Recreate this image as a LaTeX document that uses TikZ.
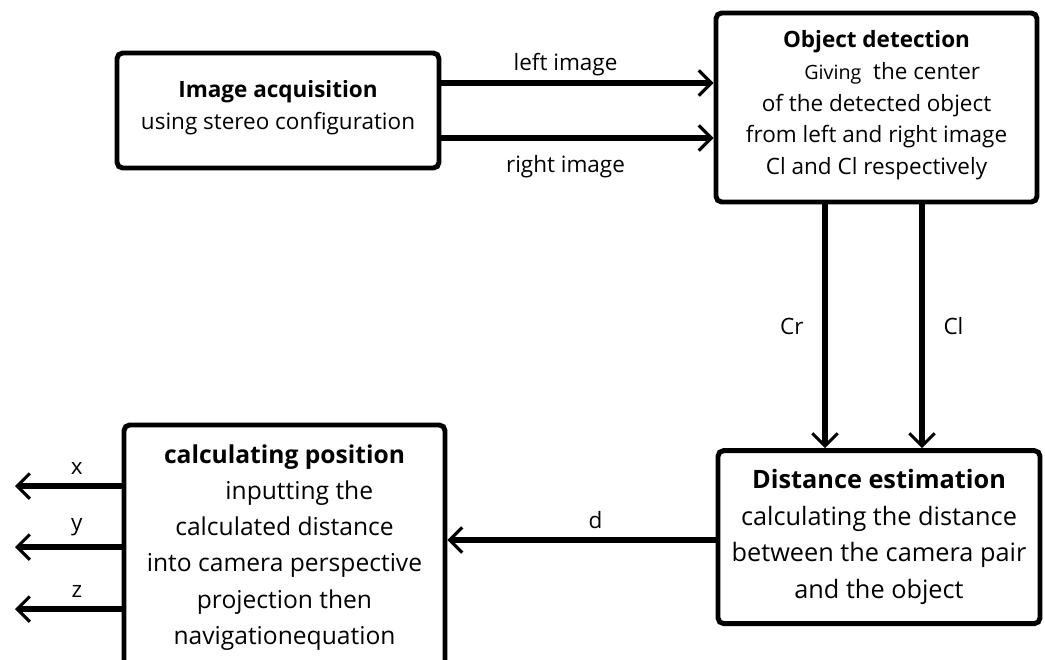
\documentclass[tikz,border=0pt]{standalone}
\usepackage{fontspec}
\setmainfont{Open Sans}
\usetikzlibrary{positioning,arrows.meta}

\begin{document}
\begin{tikzpicture}[
  box/.style={draw, rectangle, rounded corners=4pt, line width=3.5pt, align=center},
  txt/.style={align=center},
  arr/.style={line width=4pt, -{Straight Barb[length=9pt,width=18pt,line width=2.2pt]}},
  lbl/.style={font=\fontsize{16}{18}\selectfont}
]
\useasboundingbox (0,0) rectangle (26.125,-16.475);

\node[box, minimum width=8.05cm, minimum height=2.875cm] (acq) at (6.95,-2.7625) {};
\node[txt, font=\fontsize{16}{22.5}\selectfont, below=0.62cm of acq.north] (acqtxt)
  {\textbf{Image acquisition}\\using stereo configuration};
\node[box, minimum width=8.025cm, minimum height=4.725cm] (det) at (21.9125,-2.6875) {};
\node[txt, font=\fontsize{16}{22.5}\selectfont, below=0.38cm of det.north] (dettxt)
  {\textbf{Object detection}\\\hspace{1.4em}{\fontsize{14}{15}\selectfont Giving}\ \ the center\\of the detected object\\from left and right image\\Cl and Cl respectively};
\node[box, minimum width=8.05cm, minimum height=4.325cm, font=\fontsize{18}{26}\selectfont] (dist) at (21.975,-13.4275)
  {\textbf{Distance estimation}\\calculating the distance\\between the camera pair\\and the object};
\node[box, minimum width=8.025cm, minimum height=6.125cm] (pos) at (7.1125,-13.6875) {};
\node[txt, font=\fontsize{17.5}{25.8}\selectfont, below=0.42cm of pos.north] (postxt)
  {\textbf{calculating position}\\\hspace{1.2em}inputting the\\calculated distance\\into camera perspective\\projection then\\navigationequation};

\coordinate (xo) at (0.375,-12.15);
\coordinate (yo) at (0.375,-13.675);
\coordinate (zo) at (0.375,-15.225);

\draw[arr] (acq.east |- 0,-2.075) -- (det.west |- 0,-2.075) node[lbl, midway, above=0cm, xshift=-0.3cm] {left image};
\draw[arr] (acq.east |- 0,-3.45) -- (det.west |- 0,-3.45) node[lbl, midway, below=0.25cm, xshift=-0.3cm] {right image};
\draw[arr] (det.south -| 20.625,0) -- (dist.north -| 20.625,0) node[lbl, midway, left=0.35cm] {Cr};
\draw[arr] (det.south -| 23.05,0) -- (dist.north -| 23.05,0) node[lbl, midway, right=0.35cm] {Cl};
\draw[arr] (dist.west |- 0,-13.5) -- (pos.east |- 0,-13.5) node[lbl, midway, above=0.1cm, xshift=0.35cm] {d};
\draw[arr] (pos.west |- xo) -- (xo) node[lbl, pos=0.42, above=0.1cm] {x};
\draw[arr] (pos.west |- yo) -- (yo) node[lbl, pos=0.42, above=0.1cm] {y};
\draw[arr] (pos.west |- zo) -- (zo) node[lbl, pos=0.42, above=0.1cm] {z};
\end{tikzpicture}
\end{document}
